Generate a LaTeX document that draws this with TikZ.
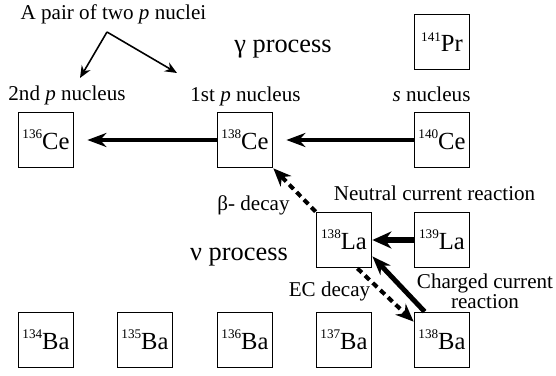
\documentclass[tikz,border=0pt]{standalone}
\usepackage{fontspec}
\setmainfont{Liberation Serif}
\usetikzlibrary{arrows.meta}
\newcommand{\nuc}[2]{\raisebox{6pt}{\fontsize{7.5}{8}\selectfont #1}#2}

\begin{document}
\begin{tikzpicture}[
  nucl/.style={draw, line width=1pt, minimum size=1.1cm, inner sep=0pt,
               font=\fontsize{14}{16}\selectfont},
  lbl/.style={anchor=base, font=\fontsize{12}{12}\selectfont},
  proc/.style={anchor=base, font=\fontsize{15}{16}\selectfont},
  arr/.style={-{Stealth[length=0.38cm, width=0.28cm]}, line width=2.3pt},
  decay/.style={-{Stealth[length=0.36cm, width=0.3cm]}, line width=2.3pt,
                dash pattern=on 3.5pt off 2.5pt},
  thin/.style={-{Stealth[length=0.24cm, width=0.2cm]}, line width=0.9pt},
]
\useasboundingbox (0,0) rectangle (11.12,7.5);
% Nuclei
\node[nucl] (pr141) at (8.84,6.66) {\nuc{141}{Pr}};
\node[nucl] (ce136) at (0.92,4.70) {\nuc{136}{Ce}};
\node[nucl] (ce138) at (4.90,4.70) {\nuc{138}{Ce}};
\node[nucl] (ce140) at (8.84,4.70) {\nuc{140}{Ce}};
\node[nucl] (la138) at (6.88,2.70) {\nuc{138}{La}};
\node[nucl] (la139) at (8.84,2.70) {\nuc{139}{La}};
\node[nucl] (ba134) at (0.92,0.70) {\nuc{134}{Ba}};
\node[nucl] (ba135) at (2.90,0.70) {\nuc{135}{Ba}};
\node[nucl] (ba136) at (4.90,0.70) {\nuc{136}{Ba}};
\node[nucl] (ba137) at (6.88,0.70) {\nuc{137}{Ba}};
\node[nucl] (ba138) at (8.84,0.70) {\nuc{138}{Ba}};
% Labels
\node[lbl] (pair) at (2.27,7.10) {A pair of two \textit{p} nuclei};
\node[lbl] (second) at (1.34,5.49) {2nd \textit{p} nucleus};
\node[lbl] (first) at (4.91,5.48) {1st \textit{p} nucleus};
\node[lbl] (snuc) at (8.63,5.48) {\textit{s} nucleus};
\node[lbl] (neutral) at (8.69,3.50) {Neutral current reaction};
\node[font=\fontsize{12}{11.5}\selectfont, align=center] (charged) at (9.70,1.68)
  {Charged current\\reaction};
\node[lbl] (ec) at (6.59,1.57) {EC decay};
\node[lbl] (beta) at (5.07,3.30) {β- decay};
\node[proc] (gamma) at (5.66,6.44) {γ process};
\node[proc] (nu) at (4.78,2.30) {ν process};
% Pair arrows
\coordinate (apex) at (2.14,6.86);
\coordinate (pairl) at (1.60,5.94);
\coordinate (pairr) at (3.54,6.04);
\draw[thin] (apex) -- (pairl);
\draw[thin] (apex) -- (pairr);
% Reactions
\draw[arr, shorten >=0.26cm] (ce138) -- (ce136);
\draw[arr, shorten >=0.26cm] (ce140) -- (ce138);
\draw[-{Stealth[length=0.38cm, width=0.34cm]}, line width=3.6pt] (la139) -- (la138);
\draw[arr, line width=2.8pt] ([xshift=0.22cm]ba138.north west) -- ([yshift=0.24cm]la138.south east);
% Decays
\draw[decay] (la138.north west) -- (ce138.south east);
\draw[decay] ([xshift=-0.3cm]la138.south east) -- ([yshift=-0.2cm]ba138.north west);
\end{tikzpicture}
\end{document}
